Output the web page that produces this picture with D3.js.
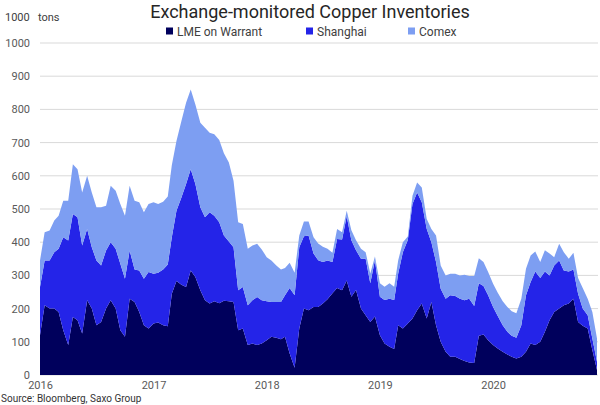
<!DOCTYPE html>
<html>
<head>
<meta charset="utf-8">
<script src="https://cdn.jsdelivr.net/npm/d3@7"></script>
<style>
  body { margin: 0; background: #fff; }
  text { font-family: Roboto, "Noto Sans", sans-serif; }
</style>
</head>
<body>
<div id="main"></div>
<script>
let dates = [
  "2016-01-01","2016-01-16","2016-02-01","2016-02-16","2016-03-01","2016-03-16","2016-04-01","2016-04-16",
  "2016-05-01","2016-05-16","2016-06-01","2016-06-16","2016-07-01","2016-07-16","2016-08-01","2016-08-16",
  "2016-09-01","2016-09-16","2016-10-01","2016-10-16","2016-11-01","2016-11-16","2016-12-01","2016-12-16",
  "2017-01-01","2017-01-16","2017-02-01","2017-02-16","2017-03-01","2017-03-16","2017-04-01","2017-04-16",
  "2017-05-01","2017-05-16","2017-06-01","2017-06-16","2017-07-01","2017-07-16","2017-08-01","2017-08-16",
  "2017-09-01","2017-09-16","2017-10-01","2017-10-16","2017-11-01","2017-11-16","2017-12-01","2017-12-16",
  "2018-01-01","2018-01-16","2018-02-01","2018-02-16","2018-03-01","2018-03-16","2018-04-01","2018-04-16",
  "2018-05-01","2018-05-16","2018-06-01","2018-06-16","2018-07-01","2018-07-16","2018-08-01","2018-08-16",
  "2018-09-01","2018-09-16","2018-10-01","2018-10-16","2018-11-01","2018-11-16","2018-12-01","2018-12-16",
  "2019-01-01","2019-01-16","2019-02-01","2019-02-16","2019-03-01","2019-03-16","2019-04-01","2019-04-16",
  "2019-05-01","2019-05-16","2019-06-01","2019-06-16","2019-07-01","2019-07-16","2019-08-01","2019-08-16",
  "2019-09-01","2019-09-16","2019-10-01","2019-10-16","2019-11-01","2019-11-16","2019-12-01","2019-12-16",
  "2020-01-01","2020-01-16","2020-02-01","2020-02-16","2020-03-01","2020-03-16","2020-04-01","2020-04-16",
  "2020-05-01","2020-05-16","2020-06-01","2020-06-16","2020-07-01","2020-07-16","2020-08-01","2020-08-16",
  "2020-09-01","2020-09-16","2020-10-01","2020-10-16","2020-11-01","2020-11-16","2020-12-01"
]

let lme = [
  120,210,200,200,190,135, 90,175,165,125,225,200,150,160,200,225,200,135,115,230,220,190,150,140,
  155,158,150,147,245,283,272,265,315,295,255,225,215,222,216,224,222,220,135,140, 90, 95, 90, 95,
  105,115,112,108,115, 65, 22,140,200,195,205,205,215,228,246,262,255,285,236,256,200,180,160,176,
  120, 95, 85, 78,150,140,155,170,195,215,170,220,150,100, 70, 55, 55, 48, 42, 38, 36,118,122,105,
   90, 80, 70, 62, 55, 50, 55, 70, 95, 90,100,130,165,190,200,210,215,230,160,148,140, 75, 15
]

let shanghai = [
  145,135,145,170,190,280,315,310,310,265,215,185,195,170,175,175,180,200,175,145, 98,125,140,170,
  150,150,168,186,170,212,263,310,305,280,250,250,275,258,244,196,180,165,120,125,120,130,145,130,
  117,105,108,112,125,197,218,245,218,225,161,141,125,117, 94,148,153,193,170,120,150,170,116,170,
  116,131,145,148,156,230,252,345,355,305,270,180,190,160,160,185,183,182,183,192,172,158,146,135,
  115, 98, 80, 68, 63, 62, 95,170,185,222,192,182,135,140,145,105, 97, 88, 85, 52, 40, 35, 25
]

let comex = [
   80, 85, 90, 95,100,110,120,150,145,160,160,165,160,175,135,170,175,180,190,195,207,205,200,205,
  215,207,204,205,217,210,230,245,240,240,255,270,240,245,248,248,238,200,205,190,170,165,160,153,
  133,125,110, 98, 82, 76, 68, 35, 44, 42, 49, 50, 46, 35, 28, 30, 22, 17, 30, 30, 30, 20, 30, 11,
   40, 40, 46, 40, 40, 30, 10, 25, 30, 45, 30, 40, 80, 70, 70, 65, 67, 70, 77, 68, 90, 76, 72, 70,
   70, 70, 72, 75, 74, 74, 80, 80, 80, 60, 48, 64, 66, 25, 50, 55, 38, 50, 47, 62, 50, 80, 70
]

let seriesNames = ["LME on Warrant", "Shanghai", "Comex"]
let seriesColors = ["#00005c", "#2424e8", "#7d9ef2"]
let yTicks = [0, 100, 200, 300, 400, 500, 600, 700, 800, 900, 1000]
let yearLabels = ["2016", "2017", "2018", "2019", "2020"]

let width = 600
let height = 405
let plotLeft = 40
let plotRight = 597
let plotTop = 43
let plotBottom = 375

let parse = d3.timeParse("%Y-%m-%d")

let rows = dates.map((d, i) => {
    return { date: parse(d), lme: lme[i], shanghai: shanghai[i], comex: comex[i] }
})

let svg = d3.select("#main")
            .append("svg")
            .attr("width", width)
            .attr("height", height)

let xScale = d3.scaleTime()
               .domain([parse(dates[0]), parse(dates[dates.length - 1])])
               .range([plotLeft, plotRight])

let yScale = d3.scaleLinear().domain([0, 1000]).range([plotBottom, plotTop])

// grid lines
svg.append("g")
    .selectAll("line")
    .data(yTicks)
    .enter()
    .append("line")
    .attr("x1", plotLeft)
    .attr("x2", 598)
    .attr("y1", (d) => yScale(d))
    .attr("y2", (d) => yScale(d))
    .style("stroke", "#d9d9d9")
    .style("stroke-width", 1)

let stack = d3.stack().keys(["lme", "shanghai", "comex"])
let layers = stack(rows)

let area = d3.area()
             .x((d) => xScale(d.data.date))
             .y0((d) => yScale(d[0]))
             .y1((d) => yScale(d[1]))

svg.append("g")
    .selectAll("path")
    .data(layers)
    .enter()
    .append("path")
    .attr("d", area)
    .style("fill", (d, i) => seriesColors[i])

// y axis
let yAxis = d3.axisLeft(yScale)
              .tickValues(yTicks)
              .tickFormat(d3.format("d"))
              .tickSize(0)
              .tickPadding(0)

let yg = svg.append("g")
    .attr("transform", "translate(30, 0)")
    .call(yAxis)
yg.select(".domain").remove()
yg.selectAll("text")
    .style("font-size", "11px")
    .style("fill", "#595959")
    .style("font-family", "Roboto, sans-serif")

// x axis
let years = yearLabels.map((y) => parse(y + "-01-01"))
let xAxis = d3.axisBottom(xScale)
              .tickValues(years)
              .tickFormat(d3.timeFormat("%Y"))
              .tickSize(0)
              .tickPadding(0)

let xg = svg.append("g")
    .attr("transform", "translate(0, 381)")
    .call(xAxis)
xg.select(".domain").remove()
xg.selectAll("text")
    .style("font-size", "11px")
    .style("fill", "#595959")
    .style("font-family", "Roboto, sans-serif")

// title and units
svg.append("text")
    .attr("x", 310)
    .attr("y", 18)
    .style("text-anchor", "middle")
    .style("font-size", "18px")
    .style("fill", "#262626")
    .text("Exchange-monitored Copper Inventories")

svg.append("text")
    .attr("x", 5)
    .attr("y", 21)
    .style("font-size", "11px")
    .style("fill", "#404040")
    .text("1000")

svg.append("text")
    .attr("x", 38)
    .attr("y", 21)
    .style("font-size", "11px")
    .style("fill", "#404040")
    .text("tons")

// legend
let legendX = [166, 306, 408]
let legend = svg.append("g").attr("id", "legend")

legend.selectAll("rect")
    .data(seriesNames)
    .enter()
    .append("rect")
    .attr("x", (d, i) => legendX[i])
    .attr("y", 27.5)
    .attr("width", 7)
    .attr("height", 7)
    .style("fill", (d, i) => seriesColors[i])

legend.selectAll("text")
    .data(seriesNames)
    .enter()
    .append("text")
    .attr("x", (d, i) => legendX[i] + 11)
    .attr("y", 35.5)
    .style("font-size", "12px")
    .style("fill", "#404040")
    .text((d) => d)

svg.append("text")
    .attr("x", 1)
    .attr("y", 401.5)
    .style("font-size", "10px")
    .style("fill", "#333")
    .text("Source: Bloomberg, Saxo Group")
</script>
</body>
</html>
